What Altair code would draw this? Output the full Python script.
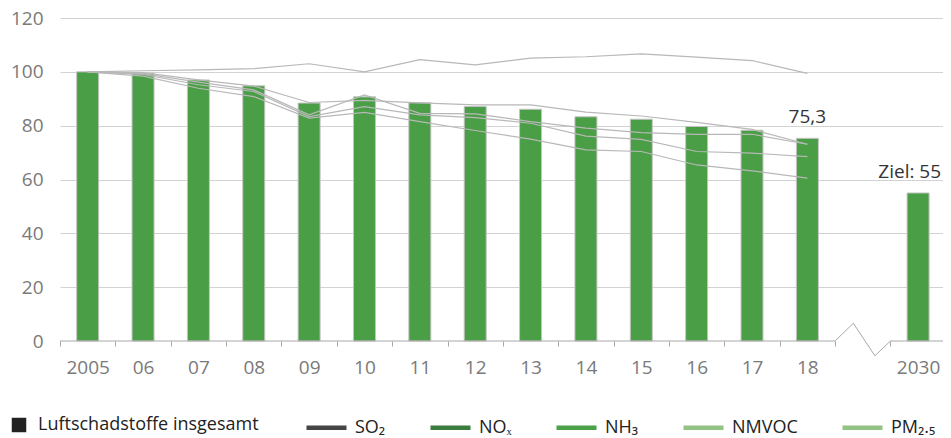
import altair as alt
import pandas as pd

# ---- data ----
x_labels = ["2005", "06", "07", "08", "09", "10", "11", "12", "13", "14", "15", "16", "17", "18", "", "2030"]
total_years_idx = list(range(14))
total_values = [100, 99.5, 97.0, 94.8, 88.4, 90.7, 88.5, 87.1, 86.1, 83.3, 82.4, 79.7, 78.3, 75.3]
goal_idx = 15
goal_value = 55

pollutants = ["SO₂", "NOₓ", "NH₃", "NMVOC", "PM₂.₅"]
pollutant_colors = ["#454545", "#3a7d3e", "#4aa147", "#93c285", "#93c285"]
so2 = [100, 98.4, 93.9, 90.8, 82.8, 84.9, 81.5, 78.2, 75.0, 71.0, 70.4, 65.4, 63.2, 60.5]
nox = [100, 99.0, 95.2, 92.7, 83.4, 87.1, 84.0, 83.0, 80.9, 76.1, 74.9, 70.4, 69.8, 68.5]
nh3 = [100, 100.4, 100.7, 101.2, 103.0, 100.0, 104.5, 102.6, 105.1, 105.6, 106.7, 105.5, 104.2, 99.4]
nmvoc = [100, 99.7, 97.0, 94.7, 88.6, 89.4, 88.5, 87.7, 87.7, 85.0, 83.6, 81.2, 78.6, 73.1]
pm25 = [100, 99.3, 96.2, 93.3, 84.0, 91.4, 84.6, 84.4, 81.5, 79.1, 77.4, 76.8, 76.8, 73.1]

# axis break (x in category index units, y in value units)
axis_x = [-0.5, 13.5, 13.83, 14.22, 14.5, 15.45]
axis_y = [0, 0, 6.6, -5.5, 0, 0]

label_values = [0, 1, 2, 3, 4, 5, 6, 7, 8, 9, 10, 11, 12, 13, 15]
tick_values = [i - 0.5 for i in range(15)] + [14.5]

series_name = "Luftschadstoffe insgesamt"

bars_df = pd.DataFrame({
    "idx": total_years_idx + [goal_idx],
    "value": total_values + [goal_value],
    "series": [series_name] * 15,
})
rows = []
for name, vals in zip(pollutants, [so2, nox, nh3, nmvoc, pm25]):
    for i, v in enumerate(vals):
        rows.append({"idx": i, "value": v, "pollutant": name})
lines_df = pd.DataFrame(rows)
axis_df = pd.DataFrame({"x": axis_x, "y": axis_y, "order": list(range(len(axis_x)))})
ann1_df = pd.DataFrame({"idx": [13], "value": [total_values[-1]], "t": ["75,3"]})
ann2_df = pd.DataFrame({"idx": [goal_idx], "value": [goal_value], "t": ["Ziel: 55"]})

FONT = "Open Sans"
xscale = alt.Scale(domain=[-0.5, 15.45], nice=False, zero=False, padding=0)
yscale = alt.Scale(domain=[0, 120], nice=False)
yaxis = alt.Axis(
    values=[0, 20, 40, 60, 80, 100, 120], title=None, domain=False, ticks=False, tickSize=0,
    labelPadding=17, labelFontSize=19, labelColor="#7a7a7a", labelFont=FONT,
    grid=True, gridColor={"condition": {"test": "datum.value === 0", "value": "transparent"}, "value": "#d2d2d2"},
    gridWidth=1,
)
label_expr = "[" + ",".join("'" + s + "'" for s in x_labels) + "][datum.value]"
x_label_axis = alt.Axis(
    orient="bottom", values=label_values, labelExpr=label_expr, title=None, domain=False,
    ticks=False, grid=False, labelFontSize=19, labelColor="#7a7a7a", labelFont=FONT, labelPadding=17,
)
x_tick_axis = alt.Axis(
    orient="bottom", values=tick_values, labels=False, title=None, domain=False, ticks=True,
    tickSize=5, tickColor="#a8a8a8", tickWidth=1, grid=False,
)

bars = alt.Chart(bars_df).mark_bar(size=22, stroke="#c4c4c4", strokeWidth=1, color="#4a9e45").encode(
    x=alt.X("idx:Q", scale=xscale, axis=x_label_axis),
    y=alt.Y("value:Q", scale=yscale, axis=yaxis),
)

legend_bars = alt.Chart(bars_df).mark_point(filled=True, shape="square", opacity=0).encode(
    x=alt.X("idx:Q", scale=xscale, axis=None),
    y=alt.Y("value:Q", scale=yscale, axis=yaxis),
    fill=alt.Fill("series:N", scale=alt.Scale(domain=[series_name], range=["#222222"]),
                  legend=alt.Legend(orient="none", legendX=-50, legendY=398, title=None,
                                    symbolType="square", symbolSize=210, symbolStrokeWidth=0,
                                    symbolOpacity=1, labelLimit=400,
                                    labelFontSize=18, labelColor="#222", labelFont=FONT, labelOffset=10)),
)

lines = alt.Chart(lines_df).mark_line(color="#b8b8b8", strokeWidth=1.2).encode(
    x=alt.X("idx:Q", scale=xscale, axis=None),
    y=alt.Y("value:Q", scale=yscale, axis=yaxis),
    detail="pollutant:N",
)

legend_lines = alt.Chart(lines_df).mark_line(opacity=0).encode(
    x=alt.X("idx:Q", scale=xscale, axis=None),
    y=alt.Y("value:Q", scale=yscale, axis=yaxis),
    stroke=alt.Stroke("pollutant:N", scale=alt.Scale(domain=pollutants, range=pollutant_colors),
                      legend=alt.Legend(orient="none", legendX=244, legendY=387, title=None,
                                        direction="horizontal", columns=5, gridAlign="each",
                                        symbolType="stroke", symbolSize=1600, symbolStrokeWidth=4.5,
                                        symbolOpacity=1, columnPadding=35, labelLimit=200,
                                        labelFontSize=18, labelColor="#222", labelFont=FONT, labelOffset=6)),
)

axis_line = alt.Chart(axis_df).mark_line(color="#a8a8a8", strokeWidth=1, clip=False).encode(
    x=alt.X("x:Q", scale=xscale, axis=x_tick_axis),
    y=alt.Y("y:Q", scale=yscale, axis=yaxis),
    order="order:Q",
)

ann1 = alt.Chart(ann1_df).mark_text(align="center", baseline="bottom", dy=-11, fontSize=19,
                                    color="#333", font=FONT).encode(
    x=alt.X("idx:Q", scale=xscale, axis=None),
    y=alt.Y("value:Q", scale=yscale, axis=yaxis),
    text="t:N",
)
ann2 = alt.Chart(ann2_df).mark_text(align="right", baseline="bottom", dy=-11, dx=23, fontSize=19,
                                    color="#333", font=FONT).encode(
    x=alt.X("idx:Q", scale=xscale, axis=None),
    y=alt.Y("value:Q", scale=yscale, axis=yaxis),
    text="t:N",
)

chart = alt.layer(bars, legend_bars, lines, legend_lines, axis_line, ann1, ann2).resolve_axis(
    x="independent"
).resolve_scale(fill="independent", stroke="independent").properties(
    width=883, height=323,
    autosize=alt.AutoSizeParams(type="none"),
    padding={"left": 52, "top": 10, "right": 0, "bottom": 95},
).configure_view(stroke=None)

chart.save("out.html", embed_options={"renderer": "svg", "actions": False})
